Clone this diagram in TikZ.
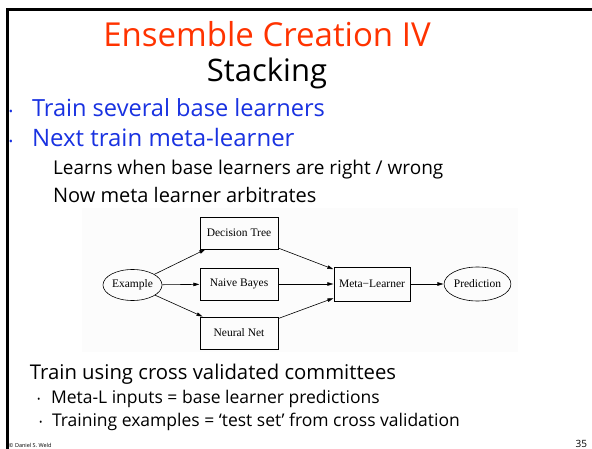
\documentclass[tikz,border=0pt]{standalone}
\usepackage{fontspec}
\setmainfont{Open Sans}
\newfontfamily\diafont{Liberation Serif}
\usetikzlibrary{arrows.meta,shapes.geometric}
\definecolor{titlered}{RGB}{255,51,0}
\definecolor{bulletblue}{RGB}{25,50,225}
\definecolor{diabg}{RGB}{252,252,252}
\tikzset{
  txt/.style={inner sep=0pt, outer sep=0pt, anchor=base west},
  learner/.style={draw, line width=0.6pt, rectangle, minimum width=78pt, minimum height=32pt, inner sep=0pt, font=\diafont\fontsize{11.5}{13}\selectfont},
  oval/.style={draw, line width=0.6pt, ellipse, minimum width=59pt, minimum height=31pt, inner sep=0pt, font=\diafont\fontsize{11.5}{13}\selectfont},
  flow/.style={line width=0.6pt, -{Triangle[length=6pt,width=3.5pt]}, shorten >=0.3pt}
}
\begin{document}
\begin{tikzpicture}[x=1pt,y=-1pt]
\useasboundingbox (0,0) rectangle (592,449);
\fill[white] (0,0) rectangle (592,449);
% slide frame
\draw[line width=2.7pt] (7.3,460) -- (7.3,9.7) -- (600,9.7);
% titles
\node[txt, anchor=base, text=titlered, font=\fontsize{33}{36}\selectfont] (title) at (267,47) {Ensemble Creation IV};
\node[txt, anchor=base, font=\fontsize{31}{34}\selectfont] (sub) at (267,82) {Stacking};
% bullets
\node[txt, text=bulletblue, font=\fontsize{11}{12}\selectfont] (b1) at (9,116) {•};
\node[txt, text=bulletblue, font=\fontsize{23.6}{26}\selectfont] (t1) at (32,117) {Train several base learners};
\node[txt, text=bulletblue, font=\fontsize{11}{12}\selectfont] (b2) at (9,146) {•};
\node[txt, text=bulletblue, font=\fontsize{24}{26}\selectfont] (t2) at (32,147) {Next train meta-learner};
\node[txt, font=\fontsize{19}{22}\selectfont] (t3) at (53,175) {Learns when base learners are right / wrong};
\node[txt, font=\fontsize{20}{22}\selectfont] (t4) at (53,203) {Now meta learner arbitrates};
% diagram
\fill[diabg] (82,208) rectangle (518,352);
\node[oval] (ex) at (132.5,285) {Example};
\node[learner] (dt) at (239,233) {Decision Tree};
\node[learner] (nb) at (239,284) {Naive Bayes};
\node[learner] (nn) at (239,333) {Neural Net};
\node[learner, minimum width=76pt, minimum height=34pt] (ml) at (372,284) {Meta−Learner};
\node[oval, minimum height=34pt] (pr) at (477.5,284) {Prediction};
\draw[flow] (ex) -- (dt);
\draw[flow] (ex) -- (nb);
\draw[flow] (ex) -- (nn);
\draw[flow] (dt) -- (ml);
\draw[flow] (nb) -- (ml);
\draw[flow] (nn) -- (ml);
\draw[flow] (ml) -- (pr);
% lower text
\node[txt, font=\fontsize{20.3}{22}\selectfont] (t5) at (30,379) {Train using cross validated committees};
\node[txt, font=\fontsize{9}{10}\selectfont] (b3) at (37,402) {•};
\node[txt, font=\fontsize{17.5}{19}\selectfont] (t6) at (51,403) {Meta-L inputs = base learner predictions};
\node[txt, font=\fontsize{9}{10}\selectfont] (b4) at (39,425) {•};
\node[txt, font=\fontsize{17.5}{19}\selectfont] (t7) at (52,426) {Training examples = ‘test set’ from cross validation};
\node[txt, font=\fontsize{5.5}{6}\selectfont] (copy) at (9,447) {© Daniel S. Weld};
\node[txt, anchor=base east, font=\fontsize{10}{12}\selectfont] (num) at (587,447.5) {35};
\end{tikzpicture}
\end{document}
